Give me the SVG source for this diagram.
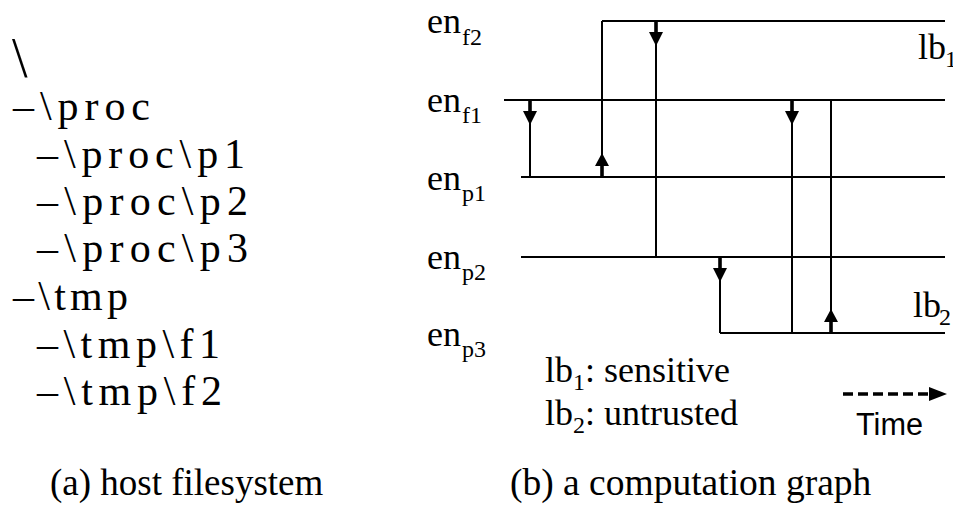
<svg xmlns="http://www.w3.org/2000/svg" xmlns:xlink="http://www.w3.org/1999/xlink" width="953" height="508" viewBox="0 0 953 508">
<style>
.t{font-family:"Liberation Serif","Times New Roman",serif;fill:#000;}
.fs{font-size:42px;}
.lb{font-size:36px;}
.sub{font-size:24px;}
.s{font-family:"Liberation Sans",Arial,sans-serif;fill:#000;}
.ln{stroke:#000;stroke-width:2;fill:none;}
</style>
<defs>
<g id="adown"><rect x="-1.8" y="0" width="3.6" height="12" fill="#000"/><polygon points="-7,11 7,11 0,25" fill="#000"/></g>
<g id="aup"><rect x="-1.8" y="-12" width="3.6" height="12" fill="#000"/><polygon points="-7,-11 7,-11 0,-24" fill="#000"/></g>
</defs>
<rect width="953" height="508" fill="#fff"/>

<g id="filesystem">
<text class="t" x="12" y="77" font-size="56">\</text>
<text class="t fs" x="13" y="120" textLength="137" lengthAdjust="spacing">–\proc</text>
<text class="t fs" x="37" y="168" textLength="208" lengthAdjust="spacing">–\proc\p1</text>
<text class="t fs" x="37" y="215" textLength="211" lengthAdjust="spacing">–\proc\p2</text>
<text class="t fs" x="37" y="262" textLength="211" lengthAdjust="spacing">–\proc\p3</text>
<text class="t fs" x="13" y="310" textLength="115" lengthAdjust="spacing">–\tmp</text>
<text class="t fs" x="37" y="358" textLength="183" lengthAdjust="spacing">–\tmp\f1</text>
<text class="t fs" x="37" y="405" textLength="185" lengthAdjust="spacing">–\tmp\f2</text>
</g>
<text class="t" x="50" y="495" font-size="37">(a) host filesystem</text>

<g id="en_f2"><text class="t lb" x="427" y="33">en</text><text class="t sub" x="462" y="45">f2</text><line class="ln" x1="602" y1="21" x2="945" y2="21"/></g>
<g id="en_f1"><text class="t lb" x="427" y="112">en</text><text class="t sub" x="462" y="123">f1</text><line class="ln" x1="504" y1="100" x2="945" y2="100"/></g>
<g id="en_p1"><text class="t lb" x="427" y="190">en</text><text class="t sub" x="462" y="201">p1</text><line class="ln" x1="521" y1="177" x2="945" y2="177"/></g>
<g id="en_p2"><text class="t lb" x="427" y="269">en</text><text class="t sub" x="462" y="280">p2</text><line class="ln" x1="521" y1="257" x2="945" y2="257"/></g>
<g id="en_p3"><text class="t lb" x="427" y="346">en</text><text class="t sub" x="462" y="357">p3</text><line class="ln" x1="720" y1="333" x2="945" y2="333"/></g>

<g id="connectors">
<line class="ln" x1="530" y1="100" x2="530" y2="177"/><use xlink:href="#adown" x="530" y="100"/>
<line class="ln" x1="602" y1="21" x2="602" y2="177"/><use xlink:href="#aup" x="602" y="177"/>
<line class="ln" x1="656" y1="21" x2="656" y2="257"/><use xlink:href="#adown" x="656" y="21"/>
<line class="ln" x1="792" y1="100" x2="792" y2="333"/><use xlink:href="#adown" x="792" y="100"/>
<line class="ln" x1="831" y1="100" x2="831" y2="333"/><use xlink:href="#aup" x="831" y="333"/>
<line class="ln" x1="720" y1="257" x2="720" y2="333"/><use xlink:href="#adown" x="720" y="257"/>
</g>

<g id="lb1"><text class="t lb" x="918" y="59">lb</text><text class="t sub" x="945" y="67">1</text></g>
<g id="lb2"><text class="t lb" x="913" y="317">lb</text><text class="t sub" x="939" y="325">2</text></g>

<g id="legend">
<text class="t lb" x="545" y="382">lb<tspan class="sub" dy="8">1</tspan><tspan dy="-8">: sensitive</tspan></text>
<text class="t lb" x="545" y="425">lb<tspan class="sub" dy="8">2</tspan><tspan dy="-8">: untrusted</tspan></text>
</g>

<g id="time">
<line x1="843" y1="394" x2="932" y2="394" stroke="#000" stroke-width="3.5" stroke-dasharray="10,5"/>
<polygon points="929,387 947,394 929,401" fill="#000"/>
<text class="s" x="856" y="435" font-size="31" textLength="67" lengthAdjust="spacingAndGlyphs">Time</text>
</g>
<text class="t" x="510" y="495" font-size="37.5">(b) a computation graph</text>
</svg>
